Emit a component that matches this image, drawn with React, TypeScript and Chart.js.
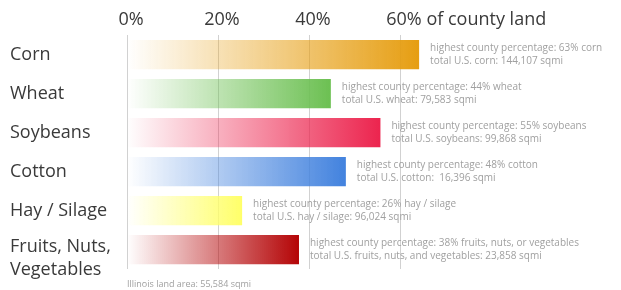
import React, { useEffect, useRef } from "react";
import { Chart, registerables } from "chart.js";

Chart.register(...registerables);

const categories: string[][] = [
  ["Corn"],
  ["Wheat"],
  ["Soybeans"],
  ["Cotton"],
  ["Hay / Silage"],
  ["Fruits, Nuts,", "Vegetables"],
];
const barValues: number[] = [64.2, 44.8, 55.7, 48.1, 25.3, 37.8];
const noteLine1: string[] = [
  "highest county percentage: 63% corn",
  "highest county percentage: 44% wheat",
  "highest county percentage: 55% soybeans",
  "highest county percentage: 48% cotton",
  "highest county percentage: 26% hay / silage",
  "highest county percentage: 38% fruits, nuts, or vegetables",
];
const noteLine2: string[] = [
  "total U.S. corn: 144,107 sqmi",
  "total U.S. wheat: 79,583 sqmi",
  "total U.S. soybeans: 99,868 sqmi",
  "total U.S. cotton:  16,396 sqmi",
  "total U.S. hay / silage: 96,024 sqmi",
  "total U.S. fruits, nuts, and vegetables: 23,858 sqmi",
];
const barColors: number[][] = [
  [230, 158, 18],
  [108, 192, 82],
  [236, 36, 78],
  [66, 130, 222],
  [255, 255, 105],
  [180, 4, 6],
];
const tickValues: number[] = [0, 20, 40, 60];
const axisSuffix = " of county land";
const footnote = "Illinois land area: 55,584 sqmi";

const FONT = "'Open Sans', Lato, sans-serif";

export default function App() {
  const ref = useRef<HTMLCanvasElement | null>(null);

  useEffect(() => {
    if (!ref.current) return;

    const textPlugin = {
      id: "textPlugin",
      afterDraw(chart: any) {
        const ctx = chart.ctx;
        const x = chart.scales.x;
        const y = chart.scales.y;
        ctx.save();
        // top tick labels
        ctx.font = `18px ${FONT}`;
        ctx.fillStyle = "#3a3a3a";
        ctx.textBaseline = "middle";
        tickValues.forEach((v, i) => {
          const px = x.getPixelForValue(v) + 4;
          const label = v + "%";
          ctx.textAlign = "center";
          ctx.fillText(label, px, 20);
          if (i === tickValues.length - 1) {
            const w = ctx.measureText(label).width;
            ctx.textAlign = "left";
            ctx.fillText(axisSuffix, px + w / 2, 20);
          }
        });
        // category labels
        ctx.font = `18px ${FONT}`;
        categories.forEach((lines, i) => {
          const cy = y.getPixelForValue(i);
          const lh = 23;
          const start = lines.length > 1 ? cy - 3 : cy;
          ctx.textAlign = "left";
          lines.forEach((ln, j) => {
            ctx.fillText(ln, 10, start + j * lh);
          });
        });
        // annotations
        ctx.font = `10px ${FONT}`;
        ctx.fillStyle = "#a0a0a0";
        ctx.textAlign = "left";
        barValues.forEach((v, i) => {
          const px = x.getPixelForValue(v) + 11;
          const cy = y.getPixelForValue(i);
          ctx.fillText(noteLine1[i], px, cy - 6.5);
          ctx.fillText(noteLine2[i], px, cy + 6.5);
        });
        ctx.font = `9px ${FONT}`;
        ctx.fillText(footnote, x.getPixelForValue(0), 284);
        ctx.restore();
      },
    };

    const chart = new Chart(ref.current, {
      type: "bar",
      data: {
        labels: categories.map((c) => c.join(" ")),
        datasets: [
          {
            data: barValues,
            borderWidth: 0,
            categoryPercentage: 0.75,
            barPercentage: 1,
            backgroundColor: (context: any) => {
              const chart = context.chart;
              const xs = chart.scales.x;
              const [r, g, b] = barColors[context.dataIndex] || [0, 0, 0];
              if (!xs || !chart.chartArea) return `rgb(${r},${g},${b})`;
              const v = barValues[context.dataIndex];
              const x0 = xs.getPixelForValue(0);
              const x1 = xs.getPixelForValue(v);
              const grad = chart.ctx.createLinearGradient(x0, 0, x1, 0);
              grad.addColorStop(0, `rgba(${r},${g},${b},0)`);
              grad.addColorStop(1, `rgba(${r},${g},${b},1)`);
              return grad;
            },
          },
        ],
      },
      options: {
        indexAxis: "y",
        animation: false,
        responsive: false,
        maintainAspectRatio: false,
        layout: { padding: { left: 10, right: 39, top: 0, bottom: 21 } },
        plugins: {
          legend: { display: false },
          tooltip: { enabled: false },
        },
        scales: {
          x: {
            position: "top",
            min: 0,
            max: 100,
            z: 1,
            afterBuildTicks: (scale: any) => {
              scale.ticks = tickValues.map((v) => ({ value: v }));
            },
            afterFit: (scale: any) => {
              scale.height = 35;
            },
            ticks: { display: false },
            grid: {
              color: "rgba(0,0,0,0.18)",
              lineWidth: 1,
              drawTicks: false,
            },
            border: { display: false },
          },
          y: {
            afterFit: (scale: any) => {
              scale.width = 117;
            },
            ticks: { display: false },
            grid: { display: false, drawTicks: false },
            border: { display: false },
          },
        },
      },
      plugins: [textPlugin],
    } as any);

    return () => chart.destroy();
  }, []);

  return (
    <div style={{ position: "fixed", left: 0, top: 0, width: 621, height: 290, background: "#fff" }}>
      <canvas ref={ref} width={621} height={290} />
    </div>
  );
}
